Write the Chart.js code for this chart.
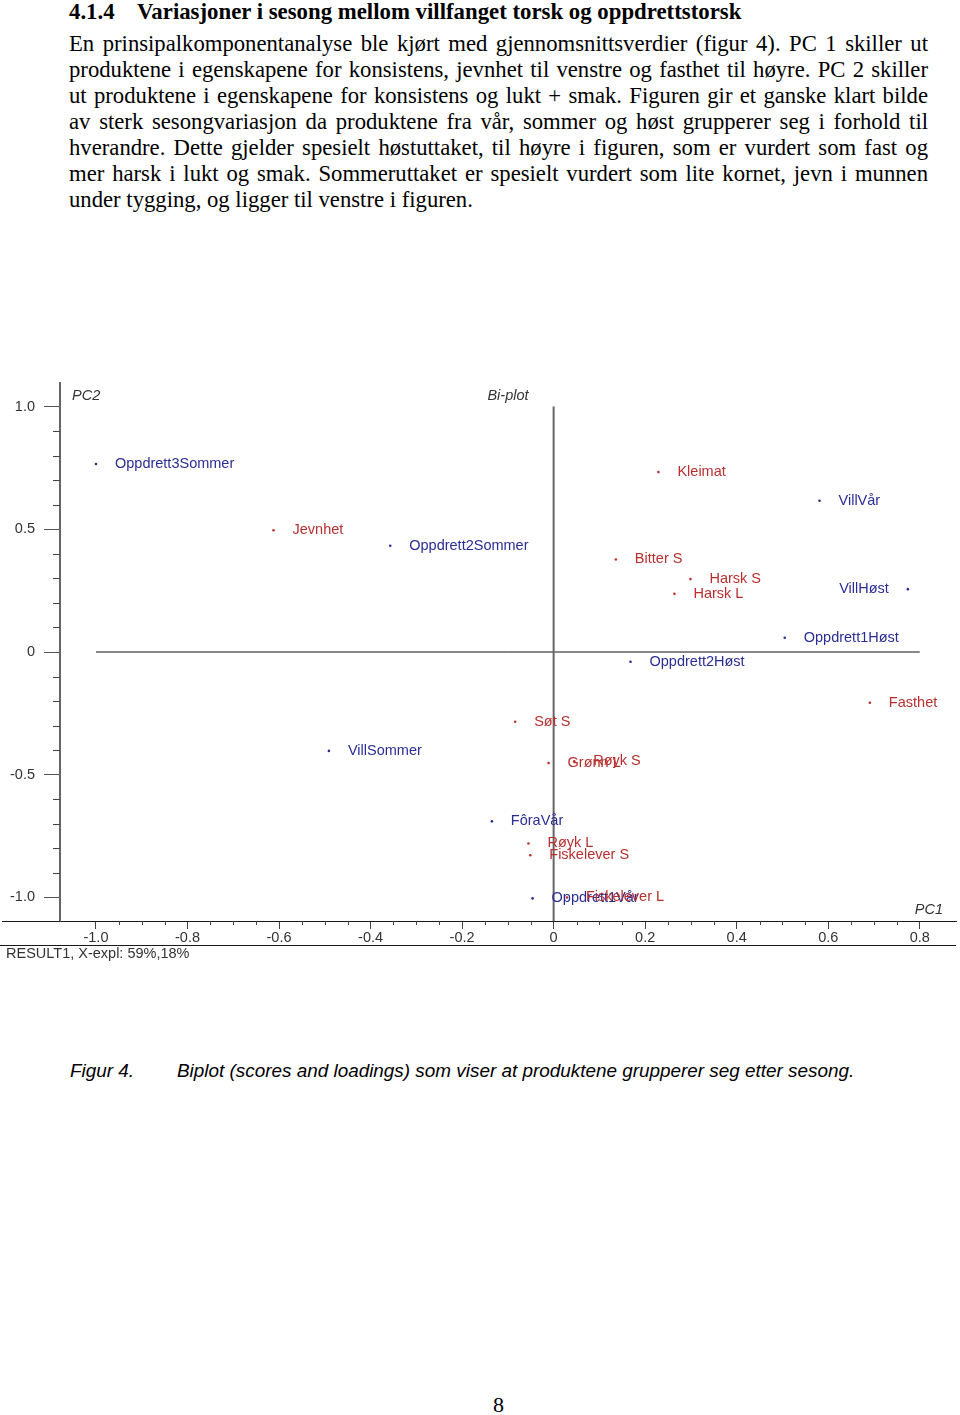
<!DOCTYPE html>
<html lang="no">
<head>
<meta charset="utf-8">
<title>Bi-plot</title>
<script src="https://cdn.jsdelivr.net/npm/chart.js@4.4.1/dist/chart.umd.min.js"></script>
<style>
  html, body { margin: 0; padding: 0; background: #fff; }
  body { position: relative; width: 960px; height: 1415px; overflow: hidden; color: #000;
         font-family: 'Liberation Serif', 'Times New Roman', serif; }
  .heading { position: absolute; left: 69px; top: -1px; font-weight: bold; font-size: 22.8px;
             line-height: 26px; white-space: nowrap; }
  .heading .num { display: inline-block; width: 68px; }
  .para { position: absolute; left: 69px; top: 31px; width: 859px; font-size: 22.7px; line-height: 26px; }
  .para div { text-align: justify; text-align-last: justify; white-space: nowrap; }
  .para div.last { text-align-last: left; }
  #wrap { position: absolute; left: 0; top: 375px; width: 960px; height: 600px; }
  #wrap canvas { display: block; }
  .caption { position: absolute; top: 1059px; font-family: 'Liberation Sans', Arial, sans-serif;
             font-style: italic; font-size: 18.9px; line-height: 24px; white-space: nowrap; }
  .pageno { position: absolute; left: 493px; top: 1392px; font-size: 22px; line-height: 26px; }
</style>
</head>
<body>
<div class="heading"><span class="num">4.1.4</span>Variasjoner i sesong mellom villfanget torsk og oppdrettstorsk</div>
<div class="para">
  <div>En prinsipalkomponentanalyse ble kjørt med gjennomsnittsverdier (figur 4). PC 1 skiller ut</div>
  <div>produktene i egenskapene for konsistens, jevnhet til venstre og fasthet til høyre. PC 2 skiller</div>
  <div>ut produktene i egenskapene for konsistens og lukt + smak. Figuren gir et ganske klart bilde</div>
  <div>av sterk sesongvariasjon da produktene fra vår, sommer og høst grupperer seg i forhold til</div>
  <div>hverandre. Dette gjelder spesielt høstuttaket, til høyre i figuren, som er vurdert som fast og</div>
  <div>mer harsk i lukt og smak. Sommeruttaket er spesielt vurdert som lite kornet, jevn i munnen</div>
  <div class="last">under tygging, og ligger til venstre i figuren.</div>
</div>

<div id="wrap"><canvas id="biplot" width="960" height="600"></canvas></div>

<div class="caption" style="left:70px">Figur 4.</div>
<div class="caption" style="left:177px">Biplot (scores and loadings) som viser at produktene grupperer seg etter sesong.</div>
<div class="pageno">8</div>

<script>
const sampleNames = ['Oppdrett3Sommer', 'Oppdrett2Sommer', 'VillVår', 'VillHøst', 'Oppdrett1Høst',
  'Oppdrett2Høst', 'VillSommer', 'FôraVår', 'Oppdrett1Vår'];
const sampleX = [-1.000, -0.357, 0.581, 0.774, 0.505, 0.168, -0.491, -0.135, -0.046];
const sampleY = [0.766, 0.433, 0.616, 0.256, 0.058, -0.040, -0.403, -0.690, -1.004];

const variableNames = ['Jevnhet', 'Kleimat', 'Bitter S', 'Harsk S', 'Harsk L', 'Fasthet', 'Søt S',
  'Grønn L', 'Røyk S', 'Røyk L', 'Fiskelever S', 'Fiskelever L'];
const variableX = [-0.612, 0.229, 0.136, 0.299, 0.264, 0.691, -0.084, -0.011, 0.045, -0.055, -0.051, 0.029];
const variableY = [0.496, 0.733, 0.377, 0.297, 0.237, -0.207, -0.284, -0.452, -0.445, -0.780, -0.828, -1.000];

const xTicks = [-1.0, -0.8, -0.6, -0.4, -0.2, 0, 0.2, 0.4, 0.6, 0.8];
const xTickLabels = ['-1.0', '-0.8', '-0.6', '-0.4', '-0.2', '0', '0.2', '0.4', '0.6', '0.8'];
const yTicks = [1.0, 0.5, 0, -0.5, -1.0];
const yTickLabels = ['1.0', '0.5', '0', '-0.5', '-1.0'];

// labels that sit on the left of their dot
const labelLeft = ['VillHøst'];

const X_MIN = -1.0786, X_MAX = 0.8792;
const Y_MIN = -1.096, Y_MAX = 1.096;

const BLUE = '#2b2d96';
const RED = '#b8302e';
const SANS = "'Liberation Sans', Arial, sans-serif";
const FONT_PX = 14.5;

const toPoints = (xs, ys) => xs.map((x, i) => ({ x, y: ys[i] }));

// point names, minor ticks, the axis line stub left of the y axis, frame line and captions
const decorations = {
  id: 'decorations',
  afterDatasetsDraw(chart) {
    const { ctx } = chart;
    ctx.save();
    ctx.font = FONT_PX + 'px ' + SANS;
    ctx.textBaseline = 'middle';
    chart.data.datasets.forEach((ds, di) => {
      if (!ds.names) return;
      ctx.fillStyle = ds.backgroundColor;
      chart.getDatasetMeta(di).data.forEach((pt, i) => {
        const name = ds.names[i];
        const left = labelLeft.includes(name);
        ctx.textAlign = left ? 'right' : 'left';
        ctx.fillText(name, pt.x + (left ? -19 : 19), pt.y);
      });
    });
    ctx.restore();
  },
  afterDraw(chart) {
    const { ctx, chartArea: a, scales: { x, y } } = chart;
    ctx.save();
    ctx.lineWidth = 1;
    ctx.strokeStyle = '#444';
    ctx.beginPath();
    for (let k = -20; k <= 16; k++) {
      if (k % 4 === 0) continue;
      const px = Math.round(x.getPixelForValue(k * 0.05)) + 0.5;
      ctx.moveTo(px, a.bottom);
      ctx.lineTo(px, a.bottom + 4);
    }
    for (let k = -10; k <= 10; k++) {
      if (k % 5 === 0) continue;
      const py = Math.round(y.getPixelForValue(k * 0.1)) + 0.5;
      ctx.moveTo(a.left - 7, py);
      ctx.lineTo(a.left, py);
    }
    ctx.stroke();

    ctx.strokeStyle = '#1a1a1a';
    ctx.beginPath();
    ctx.moveTo(2, Math.round(a.bottom) + 0.5);
    ctx.lineTo(a.left, Math.round(a.bottom) + 0.5);
    ctx.moveTo(0, Math.round(a.bottom) + 24.5);
    ctx.lineTo(a.right, Math.round(a.bottom) + 24.5);
    ctx.stroke();

    ctx.fillStyle = '#333';
    ctx.textBaseline = 'middle';
    ctx.font = 'italic ' + FONT_PX + 'px ' + SANS;
    ctx.textAlign = 'left';
    ctx.fillText('PC2', a.left + 12, a.top + 13);
    ctx.textAlign = 'center';
    ctx.fillText('Bi-plot', (a.left + a.right) / 2, a.top + 13);
    ctx.textAlign = 'right';
    ctx.fillText('PC1', a.right - 13, a.bottom - 11);
    ctx.font = FONT_PX + 'px ' + SANS;
    ctx.textAlign = 'left';
    ctx.fillText('RESULT1, X-expl: 59%,18%', 6, a.bottom + 33);
    ctx.restore();
  }
};

new Chart(document.getElementById('biplot'), {
  type: 'scatter',
  data: {
    datasets: [
      { label: 'Scores', names: sampleNames, data: toPoints(sampleX, sampleY),
        backgroundColor: BLUE, borderWidth: 0, pointRadius: 1.3, order: 1 },
      { label: 'Loadings', names: variableNames, data: toPoints(variableX, variableY),
        backgroundColor: RED, borderWidth: 0, pointRadius: 1.3, order: 1 },
      { label: 'PC1 = 0', data: [{ x: 0, y: yTicks[0] }, { x: 0, y: Y_MIN }], showLine: true,
        borderColor: '#666', borderWidth: 2, pointRadius: 0, order: 2 },
      { label: 'PC2 = 0', data: [{ x: xTicks[0], y: 0 }, { x: xTicks[xTicks.length - 1], y: 0 }], showLine: true,
        borderColor: '#111', borderWidth: 1, pointRadius: 0, order: 2 }
    ]
  },
  options: {
    responsive: false,
    animation: false,
    layout: { padding: { top: 8, right: 3, left: 0, bottom: 0 } },
    plugins: { legend: { display: false }, tooltip: { enabled: false } },
    scales: {
      x: {
        type: 'linear', min: X_MIN, max: X_MAX,
        afterBuildTicks: (s) => { s.ticks = xTicks.map((v) => ({ value: v })); },
        afterFit: (s) => { s.height = 54; s.paddingLeft = 0; s.paddingRight = 0; },
        border: { display: true, color: '#1a1a1a', width: 1 },
        grid: { drawOnChartArea: false, tickLength: 8, color: '#444' },
        ticks: { padding: 0, color: '#333', font: { family: SANS, size: FONT_PX }, maxRotation: 0,
          autoSkip: false, callback: (v, i) => xTickLabels[i] }
      },
      y: {
        type: 'linear', min: Y_MIN, max: Y_MAX,
        afterBuildTicks: (s) => { s.ticks = yTicks.map((v) => ({ value: v })); },
        afterFit: (s) => { s.width = 60; s.paddingTop = 0; s.paddingBottom = 0; },
        border: { display: true, color: '#666', width: 2 },
        grid: { drawOnChartArea: false, tickLength: 16, color: '#555' },
        ticks: { padding: 9, color: '#333', font: { family: SANS, size: FONT_PX },
          autoSkip: false, callback: (v, i) => yTickLabels[i] }
      }
    }
  },
  plugins: [decorations]
});
</script>
</body>
</html>
